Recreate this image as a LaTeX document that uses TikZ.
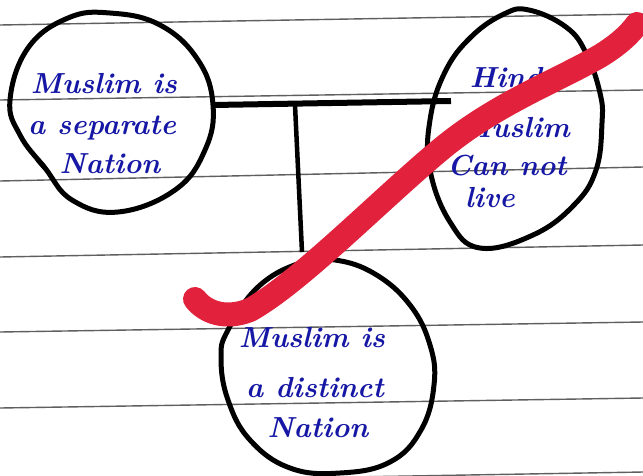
\documentclass[tikz,border=0pt]{standalone}
\definecolor{ink}{RGB}{22,24,165}
\definecolor{marker}{RGB}{226,34,60}
\definecolor{rule}{RGB}{95,95,95}
\tikzset{
  ruled/.style={rule, line width=1.4pt},
  pen/.style={black, line width=5pt, line join=round, line cap=round},
  word/.style={ink, inner sep=0pt, font=\fontsize{29}{34}\selectfont\bfseries\itshape},
  tick/.style={marker, line width=24pt, line cap=round, line join=round}
}
\begin{document}
\begin{tikzpicture}[x=1pt, y=-1pt]
\fill[white] (0,0) rectangle (643,475);
\useasboundingbox (0,0) rectangle (643,475);

% notebook ruling
\foreach \yl/\yr in {25/14, 100/90, 181/167, 257/245, 332/322, 408/398, 483/472}
  \draw[ruled] (0,\yl) -- (643,\yr);

% left bubble
\draw[pen] plot[smooth cycle, tension=0.7] coordinates {
  (10,100) (28,48) (68,18) (110,13) (160,25) (198,60) (213,105)
  (205,150) (175,190) (118,212) (72,200) (45,168) (20,135)};
\draw[pen] (45,168) -- (38,160);

% right bubble
\draw[pen] plot[smooth cycle, tension=0.7] coordinates {
  (529,10) (566,27) (586,53) (600,93) (602,123) (596,170) (574,205)
  (533,235) (480,248) (450,222) (430,170) (430,120) (445,72) (471,37) (504,14)};

% bottom bubble
\draw[pen] plot[smooth cycle, tension=0.7] coordinates {
  (228,330) (258,287) (300,263) (335,260) (375,274) (410,305) (430,345)
  (434,385) (421,430) (390,462) (340,473) (290,468) (250,440) (228,400) (221,358)};

% connectors
\coordinate (barL) at (213,105);
\coordinate (barR) at (451,101);
\coordinate (stemT) at (295,105);
\coordinate (stemB) at (302,252);
\draw[pen, line width=6pt, line cap=butt] (barL) -- (barR);
\draw[pen, line width=4.5pt, line cap=butt] (stemT) -- (stemB);

% texts
\node[word] (sepA) at (104,84) {Muslim is};
\node[word] (sepB) at (102,128) {a separate};
\node[word] (sepC) at (110,164) {Nation};

\node[word] (hinA) at (515,78) {Hindu};
\node[word] (hinB) at (515,128) {Muslim};
\node[word] (hinC) at (507,166) {Can not};
\node[word] (hinD) at (490,198) {live};

\node[word] (disA) at (312,338) {Muslim is};
\node[word] (disB) at (315,388) {a distinct};
\node[word] (disC) at (318,428) {Nation};

% red check stroke
\draw[tick] (195,299) .. controls (205,312) and (225,320) .. (250,310)
  .. controls (300,282) and (380,200) .. (440,150)
  .. controls (495,104) and (555,82) .. (600,56)
  .. controls (618,45) and (630,34) .. (637,24);
\end{tikzpicture}
\end{document}
